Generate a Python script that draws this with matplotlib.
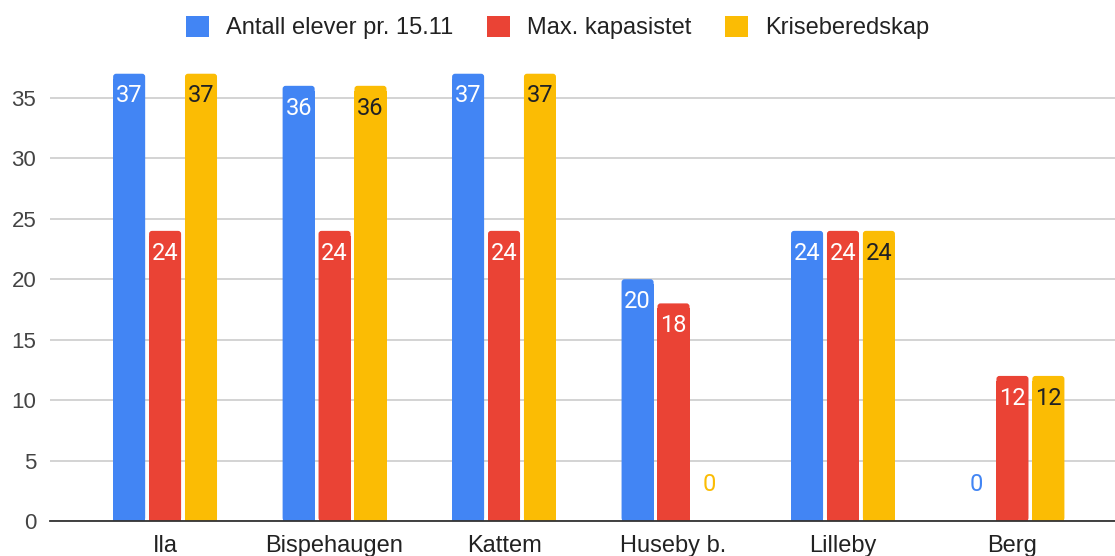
import matplotlib
matplotlib.use("Agg")
import matplotlib.pyplot as plt
from matplotlib.patches import Patch, FancyBboxPatch
import numpy as np

plt.rcParams['font.family'] = ['Liberation Sans', 'DejaVu Sans']

categories = ["Ila", "Bispehaugen", "Kattem", "Huseby b.", "Lilleby", "Berg"]
series_names = ["Antall elever pr. 15.11", "Max. kapasistet", "Kriseberedskap"]
antall = [37, 36, 37, 20, 24, 0]
maks = [24, 24, 24, 18, 24, 12]
krise = [37, 36, 37, 0, 24, 12]
colors = ["#4285F4", "#EA4335", "#FBBC04"]
label_colors = ["white", "white", "#202124"]
yticks = [0, 5, 10, 15, 20, 25, 30, 35]

fig = plt.figure(figsize=(11.15, 5.56), dpi=100)
ax = fig.add_axes([0.045, 0.063, 0.955, 0.837])

xlim = (-0.678, 5.605)
ylim = (0, 38.5)
ax.set_xlim(*xlim)
ax.set_ylim(*ylim)
ax_w_px = 0.955 * 1115
ax_h_px = 0.837 * 556
xu_per_px = (xlim[1] - xlim[0]) / ax_w_px
yu_per_px = (ylim[1] - ylim[0]) / ax_h_px

x = np.arange(len(categories))
width = 0.189
offset = 0.212
for i, (vals, c, lc) in enumerate(zip([antall, maks, krise], colors, label_colors)):
    xs = x + (i - 1) * offset
    bars = ax.bar(xs, vals, width=width, color=c, zorder=3)
    for r, v in zip(bars, vals):
        if v > 0:
            r.set_height(v - 5 * yu_per_px)
            ax.add_patch(FancyBboxPatch((r.get_x(), 0), r.get_width(), v,
                                        boxstyle="round,pad=0,rounding_size=%f" % (3 * xu_per_px),
                                        mutation_aspect=yu_per_px / xu_per_px,
                                        facecolor=c, edgecolor='none', zorder=3))
    for xx, v in zip(xs, vals):
        if v > 0:
            ax.annotate(str(v), (xx, v), xytext=(0, -16), textcoords='offset points',
                        ha='center', va='center', color=lc, fontsize=17, zorder=4,
                        family=['Roboto', 'DejaVu Sans'])
        else:
            ax.annotate(str(v), (xx, 0), xytext=(0, 26), textcoords='offset points',
                        ha='center', va='center', color=c, fontsize=17, zorder=4,
                        family=['Roboto', 'DejaVu Sans'])

ax.set_yticks(yticks)
ax.set_xticks(x)
ax.set_xticklabels(categories, fontsize=17, color="#222222")
ax.tick_params(axis='y', labelsize=16, length=0, pad=10, labelcolor="#444444")
ax.tick_params(axis='x', length=0, pad=10)
ax.grid(axis='y', color="#cccccc", linewidth=1.2, zorder=0)
for s in ['top', 'right', 'left']:
    ax.spines[s].set_visible(False)
ax.spines['bottom'].set_color('#333333')
ax.spines['bottom'].set_linewidth(1.3)
ax.spines['bottom'].set_zorder(5)

handles = [Patch(facecolor=c, label=n) for c, n in zip(colors, series_names)]
fig.legend(handles=handles, loc='upper center', bbox_to_anchor=(0.5, 1.01), ncol=3,
           frameon=False, fontsize=17, handlelength=1.0, handleheight=1.0,
           columnspacing=1.4, handletextpad=0.72, labelcolor="#222222")

fig.savefig("out.png", dpi=100)
